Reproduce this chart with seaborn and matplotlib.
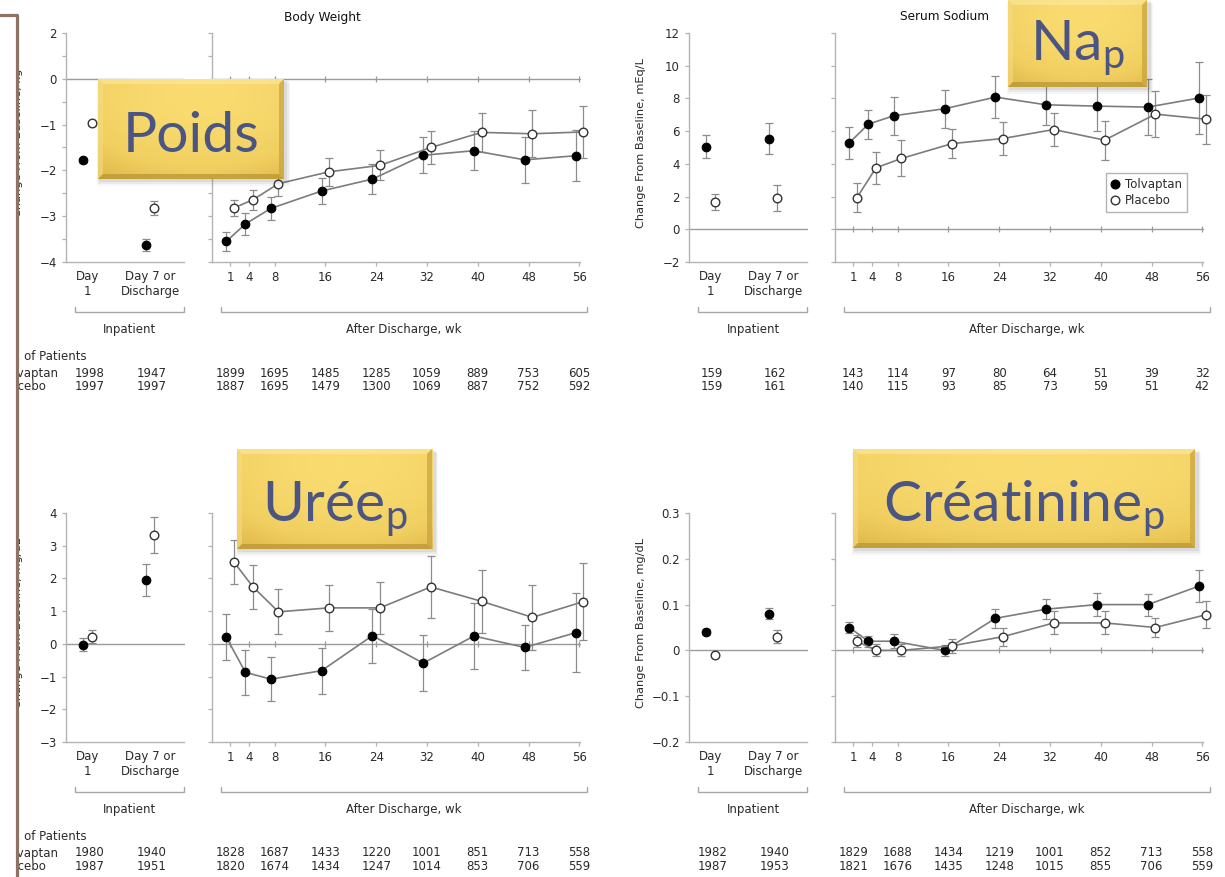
import numpy as np
import pandas as pd
import matplotlib
matplotlib.use("Agg")
import matplotlib.pyplot as plt
import seaborn as sns
from matplotlib.lines import Line2D
from matplotlib.patches import Rectangle
from matplotlib.transforms import blended_transform_factory
from matplotlib.colors import LinearSegmentedColormap

# =========================================================
# DONNEES
# =========================================================
semaines = [1, 4, 8, 16, 24, 32, 40, 48, 56]
semaines_effectifs = [1, 8, 16, 24, 32, 40, 48, 56]
jours = ["Day\n1", "Day 7 or\nDischarge"]

# Poids (Body Weight, kg)
poids_tol_hosp = [-1.78, -3.62]
poids_tol_hosp_err = [0.05, 0.13]
poids_pla_hosp = [-0.97, -2.82]
poids_pla_hosp_err = [0.05, 0.15]
poids_tol = [-3.55, -3.17, -2.83, -2.45, -2.19, -1.67, -1.57, -1.77, -1.68]
poids_tol_err = [0.20, 0.23, 0.26, 0.29, 0.32, 0.39, 0.42, 0.51, 0.56]
poids_pla = [-2.82, -2.64, -2.29, -2.03, -1.89, -1.50, -1.17, -1.20, -1.16]
poids_pla_err = [0.18, 0.22, 0.26, 0.30, 0.33, 0.37, 0.43, 0.51, 0.57]
poids_n_tol = [1998, 1947, 1899, 1695, 1485, 1285, 1059, 889, 753, 605]
poids_n_pla = [1997, 1997, 1887, 1695, 1479, 1300, 1069, 887, 752, 592]
# l'axe d'origine porte "2" sur la graduation haute (une unite au-dessus de 0)
poids_yticks = [1, 0.5, 0, -0.5, -1, -1.5, -2, -2.5, -3, -3.5, -4]
poids_ylabels = ["2", "", "0", "", "\u22121", "", "\u22122", "", "\u22123", "", "\u22124"]

# Natremie (Serum Sodium, mEq/L)
na_tol_hosp = [5.04, 5.55]
na_tol_hosp_err = [0.70, 0.92]
na_pla_hosp = [1.67, 1.90]
na_pla_hosp_err = [0.50, 0.80]
na_tol = [5.29, 6.43, 6.94, 7.37, 8.08, 7.61, 7.53, 7.47, 8.02]
na_tol_err = [0.97, 0.89, 1.15, 1.16, 1.27, 1.25, 1.50, 1.70, 2.20]
na_pla = [1.94, 3.76, 4.33, 5.24, 5.55, 6.10, 5.45, 7.04, 6.73]
na_pla_err = [0.90, 0.97, 1.10, 0.90, 1.00, 1.00, 1.20, 1.40, 1.50]
na_n_tol = [159, 162, 143, 114, 97, 80, 64, 51, 39, 32]
na_n_pla = [159, 161, 140, 115, 93, 85, 73, 59, 51, 42]
na_yticks = [12, 10, 8, 6, 4, 2, 0, -2]
na_ylabels = ["12", "10", "8", "6", "4", "2", "0", "\u22122"]

# Uree (BUN, mg/dL)
ur_tol_hosp = [-0.03, 1.95]
ur_tol_hosp_err = [0.20, 0.50]
ur_pla_hosp = [0.22, 3.32]
ur_pla_hosp_err = [0.20, 0.55]
ur_tol = [0.20, -0.87, -1.08, -0.82, 0.25, -0.59, 0.24, -0.11, 0.34]
ur_tol_err = [0.70, 0.68, 0.67, 0.70, 0.82, 0.85, 1.00, 0.68, 1.20]
ur_pla = [2.50, 1.74, 0.98, 1.10, 1.10, 1.74, 1.30, 0.81, 1.29]
ur_pla_err = [0.67, 0.66, 0.69, 0.71, 0.79, 0.94, 0.97, 1.00, 1.18]
ur_n_tol = [1980, 1940, 1828, 1687, 1433, 1220, 1001, 851, 713, 558]
ur_n_pla = [1987, 1951, 1820, 1674, 1434, 1247, 1014, 853, 706, 559]
ur_yticks = [4, 3, 2, 1, 0, -1, -2, -3]
ur_ylabels = ["4", "3", "2", "1", "0", "\u22121", "\u22122", "\u22123"]

# Creatinine (mg/dL)
cr_tol_hosp = [0.040, 0.080]
cr_tol_hosp_err = [0.006, 0.012]
cr_pla_hosp = [-0.010, 0.030]
cr_pla_hosp_err = [0.005, 0.014]
cr_tol = [0.050, 0.020, 0.020, 0.000, 0.070, 0.090, 0.100, 0.100, 0.140]
cr_tol_err = [0.012, 0.012, 0.015, 0.012, 0.020, 0.022, 0.025, 0.024, 0.035]
cr_pla = [0.020, 0.000, 0.000, 0.010, 0.030, 0.060, 0.060, 0.050, 0.078]
cr_pla_err = [0.013, 0.013, 0.013, 0.015, 0.020, 0.025, 0.025, 0.020, 0.030]
cr_n_tol = [1982, 1940, 1829, 1688, 1434, 1219, 1001, 852, 713, 558]
cr_n_pla = [1987, 1953, 1821, 1676, 1435, 1248, 1015, 855, 706, 559]
cr_yticks = [0.3, 0.2, 0.1, 0, -0.1, -0.2]
cr_ylabels = ["0.3", "0.2", "0.1", "0", "\u22120.1", "\u22120.2"]

# =========================================================
# STYLE
# =========================================================
W, H = 1225, 877
sns.set_theme(style="white")
plt.rcParams["font.family"] = ["DejaVu Sans"]
plt.rcParams["mathtext.fontset"] = "custom"
plt.rcParams["mathtext.rm"] = "Lato"
plt.rcParams["mathtext.it"] = "Lato:italic"
plt.rcParams["mathtext.bf"] = "Lato:bold"

GRIS_AXE = "#b3b3b3"
GRIS_LIGNE = "#7c7c7c"
GRIS_ERR = "#8c8c8c"
TEXTE = "#2a2a2a"
FS = 8.5
DECAL_SEM = 0.6
DECAL_JOUR = 0.067
MS = 6.2

fig = plt.figure(figsize=(W / 100, H / 100), dpi=100)
fig.patch.set_facecolor("white")


def fx(x):
    return x / W


def fy(y):
    return 1 - y / H


def rect(l, t, w, h):
    return [l / W, 1 - (t + h) / H, w / W, h / H]


def style_axe(ax, yticks, ylabels):
    for s in ["top", "right"]:
        ax.spines[s].set_visible(False)
    for s in ["left", "bottom"]:
        ax.spines[s].set_color(GRIS_AXE)
        ax.spines[s].set_linewidth(1)
    ax.set_yticks(yticks)
    ax.set_yticklabels(ylabels)
    ax.tick_params(axis="y", direction="out", length=3, width=0.9, color=GRIS_AXE,
                   labelsize=FS, labelcolor=TEXTE, pad=3.5, left=True)
    ax.set_xlabel("")
    ax.set_ylabel("")
    ax.set_facecolor("none")


def sans_coupure(ax):
    for art in list(ax.lines) + list(ax.collections):
        art.set_clip_on(False)


def panneau(dx, dy, titre, ylab, ylim, yticks, ylabels,
            tol_h, tol_h_e, pla_h, pla_h_e, tol, tol_e, pla, pla_e,
            n_tol, n_pla, lignes=True, legende=False):
    ax1 = fig.add_axes(rect(66 + dx, 33 + dy, 118, 229))
    ax2 = fig.add_axes(rect(212 + dx, 33 + dy, 368, 229))

    # ---- hospitalisation ----
    x_t = [i - DECAL_JOUR for i in range(2)]
    x_p = [i + DECAL_JOUR for i in range(2)]
    ax1.axhline(0, color="#9a9a9a", lw=1, zorder=1)
    ax1.errorbar(x_t, tol_h, yerr=tol_h_e, fmt="none", ecolor=GRIS_ERR,
                 elinewidth=0.9, capsize=3, capthick=0.9, zorder=2)
    ax1.errorbar(x_p, pla_h, yerr=pla_h_e, fmt="none", ecolor=GRIS_ERR,
                 elinewidth=0.9, capsize=3, capthick=0.9, zorder=2)
    sns.scatterplot(x=x_t, y=tol_h, ax=ax1, color="black", edgecolor="black",
                    s=MS ** 2, linewidth=0.8, zorder=3)
    sns.scatterplot(x=x_p, y=pla_h, ax=ax1, color="white", edgecolor="#333333",
                    s=MS ** 2, linewidth=1.0, zorder=3)
    ax1.set_xlim(-0.34, 1.54)
    ax1.set_ylim(*ylim)
    style_axe(ax1, yticks, ylabels)
    ax1.set_xticks([0, 1])
    ax1.set_xticklabels(jours)
    ax1.tick_params(axis="x", length=0, labelsize=FS, labelcolor=TEXTE, pad=6.0)
    for t in ax1.get_xticklabels():
        t.set_linespacing(1.2)
    sans_coupure(ax1)

    # ---- apres la sortie ----
    df_t = pd.DataFrame({"semaine": [s - DECAL_SEM for s in semaines], "valeur": tol})
    df_p = pd.DataFrame({"semaine": [s + DECAL_SEM for s in semaines], "valeur": pla})
    ax2.axhline(0, color="#9a9a9a", lw=1, zorder=1)
    ax2.plot(semaines, [0] * len(semaines), ls="none", marker="|", ms=4,
             mew=0.9, color="#9a9a9a", zorder=1)
    ax2.errorbar(df_t["semaine"], df_t["valeur"], yerr=tol_e, fmt="none",
                 ecolor=GRIS_ERR, elinewidth=0.9, capsize=3, capthick=0.9, zorder=2)
    ax2.errorbar(df_p["semaine"], df_p["valeur"], yerr=pla_e, fmt="none",
                 ecolor=GRIS_ERR, elinewidth=0.9, capsize=3, capthick=0.9, zorder=2)
    sns.lineplot(data=df_t, x="semaine", y="valeur", ax=ax2, color=GRIS_LIGNE,
                 lw=1.2, marker="o", markersize=MS, markerfacecolor="black",
                 markeredgecolor="black", markeredgewidth=0.8, errorbar=None, zorder=3)
    sns.lineplot(data=df_p, x="semaine", y="valeur", ax=ax2, color=GRIS_LIGNE,
                 lw=1.2, marker="o", markersize=MS, markerfacecolor="white",
                 markeredgecolor="#333333", markeredgewidth=1.0, errorbar=None, zorder=3)
    ax2.set_xlim(-1.86, 56.1)
    ax2.set_ylim(*ylim)
    style_axe(ax2, yticks, [""] * len(yticks))
    ax2.set_xticks(semaines)
    ax2.set_xticklabels([str(s) for s in semaines])
    ax2.tick_params(axis="x", direction="out", length=3, width=0.9, color=GRIS_AXE,
                    labelsize=FS, labelcolor=TEXTE, pad=3.6, bottom=True)
    sans_coupure(ax2)

    # ---- textes ----
    fig.text(fx(322 + dx), fy(17 + dy), titre, ha="center", va="center",
             fontsize=FS + 0.2, color="#111111")
    fig.text(fx(18.5 + dx), fy(143 + dy), ylab, rotation=90, ha="center",
             va="center", fontsize=FS - 0.3, color=TEXTE)

    # accolades
    for x0, x1 in [(75 + dx, 184 + dx), (221 + dx, 587 + dx)]:
        fig.add_artist(Line2D([fx(x0), fx(x0), fx(x1), fx(x1)],
                              [fy(307 + dy), fy(312 + dy), fy(312 + dy), fy(307 + dy)],
                              color="#a8a8a8", lw=1))
    fig.text(fx(130 + dx), fy(330 + dy), "Inpatient", ha="center", va="center",
             fontsize=FS, color=TEXTE)
    fig.text(fx(404 + dx), fy(330 + dy), "After Discharge, wk", ha="center",
             va="center", fontsize=FS, color=TEXTE)

    # effectifs
    tr1 = blended_transform_factory(ax1.transData, fig.transFigure)
    tr2 = blended_transform_factory(ax2.transData, fig.transFigure)
    for serie, y in [(n_tol, 373 + dy), (n_pla, 387 + dy)]:
        for i in range(2):
            ax1.text(i + 0.03, fy(y), str(serie[i]), transform=tr1, ha="center",
                     va="center", fontsize=FS, color=TEXTE, clip_on=False)
        for s, v in zip(semaines_effectifs, serie[2:]):
            ax2.text(s, fy(y), str(v), transform=tr2, ha="center", va="center",
                     fontsize=FS, color=TEXTE, clip_on=False)
    if lignes:
        for txt, y in [("No. of Patients", 357), ("Tolvaptan", 373), ("Placebo", 387)]:
            fig.text(fx(1 + dx), fy(y + dy), txt, ha="left", va="center",
                     fontsize=FS, color=TEXTE)

    if legende:
        poignees = [
            Line2D([], [], ls="none", marker="o", ms=MS, mfc="black", mec="black"),
            Line2D([], [], ls="none", marker="o", ms=MS, mfc="white", mec="#333333"),
        ]
        leg = ax2.legend(poignees, ["Tolvaptan", "Placebo"], loc="upper left",
                         bbox_to_anchor=(fx(1106), fy(173)), bbox_transform=fig.transFigure,
                         frameon=True, fancybox=False, edgecolor="#a0a0a0",
                         fontsize=FS, borderpad=0.45, handlelength=0.7,
                         handletextpad=0.45, labelspacing=0.2, borderaxespad=0)
        leg.get_frame().set_linewidth(1)
        for t in leg.get_texts():
            t.set_color(TEXTE)


panneau(0, 0, "Body Weight", "Change From Baseline, kg", (-4, 1),
        poids_yticks, poids_ylabels,
        poids_tol_hosp, poids_tol_hosp_err, poids_pla_hosp, poids_pla_hosp_err,
        poids_tol, poids_tol_err, poids_pla, poids_pla_err, poids_n_tol, poids_n_pla)

panneau(623, 0, "Serum Sodium", "Change From Baseline, mEq/L", (-2, 12),
        na_yticks, na_ylabels,
        na_tol_hosp, na_tol_hosp_err, na_pla_hosp, na_pla_hosp_err,
        na_tol, na_tol_err, na_pla, na_pla_err, na_n_tol, na_n_pla,
        lignes=False, legende=True)

panneau(0, 480, "", "Change From Baseline, mg/dL", (-3, 4),
        ur_yticks, ur_ylabels,
        ur_tol_hosp, ur_tol_hosp_err, ur_pla_hosp, ur_pla_hosp_err,
        ur_tol, ur_tol_err, ur_pla, ur_pla_err, ur_n_tol, ur_n_pla)

panneau(623, 480, "", "Change From Baseline, mg/dL", (-0.2, 0.3),
        cr_yticks, cr_ylabels,
        cr_tol_hosp, cr_tol_hosp_err, cr_pla_hosp, cr_pla_hosp_err,
        cr_tol, cr_tol_err, cr_pla, cr_pla_err, cr_n_tol, cr_n_pla, lignes=False)

# =========================================================
# ETIQUETTES DOREES
# =========================================================
cmap_or = LinearSegmentedColormap.from_list("or", ["#dcb648", "#f1cf60", "#f9db70"])
gx, gy = np.meshgrid(np.linspace(0, 1, 200), np.linspace(0, 1, 100))
degrade = 1 - np.clip(1.1 * (gx - 0.55) ** 2 + 0.9 * (gy - 0.15) ** 2, 0, 1)


def etiquette(l, t, w, h, texte, base):
    for k, a in [(7, 0.05), (5, 0.07), (3, 0.10)]:
        fig.add_artist(Rectangle((fx(l + 2 - k / 2), fy(t + h + k)), (w + k) / W, (h + k / 2) / H,
                                 transform=fig.transFigure, color="#555555",
                                 alpha=a, lw=0, zorder=9))
    ax = fig.add_axes(rect(l, t, w, h), zorder=10)
    ax.imshow(degrade, cmap=cmap_or, extent=[0, 1, 0, 1], aspect="auto", origin="upper")
    bx, by = 5 / w, 5 / h
    ax.fill([0, 1, 1 - bx, bx], [1, 1, 1 - by, 1 - by], color="#fbe79a", alpha=0.7, lw=0)
    ax.fill([0, bx, bx, 0], [0, by, 1 - by, 1], color="#f5dc80", alpha=0.6, lw=0)
    ax.fill([0, 1, 1 - bx, bx], [0, 0, by, by], color="#b89433", alpha=0.7, lw=0)
    ax.fill([1, 1, 1 - bx, 1 - bx], [0, 1, 1 - by, by], color="#c7a23c", alpha=0.7, lw=0)
    ax.set_xlim(0, 1)
    ax.set_ylim(0, 1)
    ax.axis("off")
    ax.text(0.5, base, texte, ha="center", va="baseline", fontsize=41,
            family="Lato", color="#4b5583")


etiquette(98, 79, 186, 100, "Poids", 0.27)
etiquette(1008, 0, 139, 87, "Na$_{\\mathrm{p}}$", 0.31)
etiquette(237, 449, 195, 100, "Urée$_{\\mathrm{p}}$", 0.28)
etiquette(853, 449, 342, 99, "Créatinine$_{\\mathrm{p}}$", 0.27)

# =========================================================
# CADRE A GAUCHE
# =========================================================
fig.add_artist(Rectangle((0, 0), fx(19), 1, transform=fig.transFigure,
                         color="white", lw=0, zorder=50))
fig.add_artist(Line2D([0, fx(16.5), fx(16.5)], [fy(14.5), fy(14.5), 0],
                      color="#8d7367", lw=2.3, zorder=51))

fig.savefig("out.png", dpi=100)
